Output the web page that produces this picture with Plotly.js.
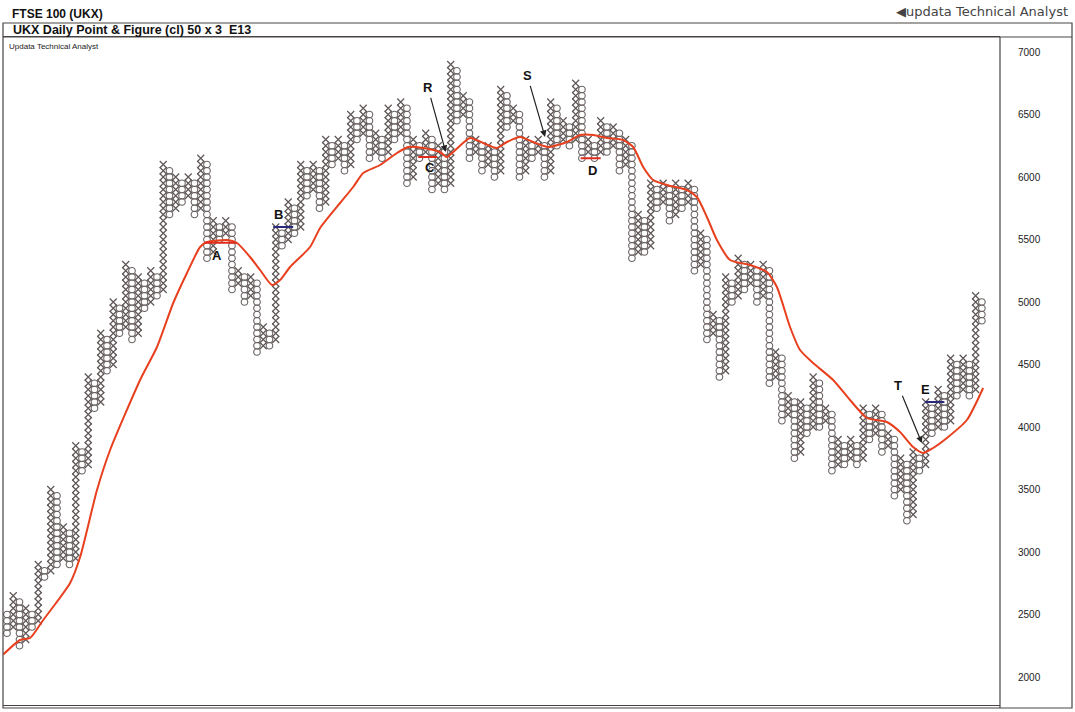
<!DOCTYPE html>
<html>
<head>
<meta charset="utf-8">
<script src="https://cdn.plot.ly/plotly-3.0.1.min.js"></script>
<style>
html,body{margin:0;padding:0;background:#fff;}
#chart{width:1075px;height:712px;}
</style>
</head>
<body>
<div id="chart"></div>
<script>
// ---- Data (Point & Figure, box 50, 3-box reversal) ----
const boxSize = 50;
const firstColTop = 2500;           // first column (O) starts here
// Column end values: even index = O column low, odd index = X column high
const colEnds = [2350,2650,2250,2550,2400,2900,2800,3500,2900,3200,
  2900,3850,3650,4400,4150,4750,4450,5000,4750,5300,
  4700,5200,4950,5250,5050,6100,5700,6000,5800,6000,
  5700,6150,5350,5650,5500,5650,5100,5250,5000,5200,
  4600,4800,4650,5600,5450,5800,5550,6100,5850,6100,
  5750,6300,6100,6300,6050,6500,6300,6550,6150,6350,
  6150,6550,6300,6600,5950,6300,6150,6350,5900,6250,
  5900,6900,6450,6650,6150,6300,6050,6250,6000,6700,
  6400,6550,6000,6300,6150,6300,6000,6600,6250,6450,
  6250,6750,6150,6300,6150,6450,6200,6400,6050,6300,
  5350,5700,5400,5950,5750,5950,5650,5950,5750,5950,
  5250,5550,4700,4900,4400,5200,5000,5350,5100,5300,
  5000,5300,4350,4600,4050,4250,3750,4200,3950,4400,
  4000,4150,3650,3900,3700,3900,3700,4150,3900,4150,
  3800,3950,3450,3750,3250,3800,3650,4200,3950,4300,
  4000,4550,4250,4550,4250,5050,4850];

// Moving average at column positions
const maCol = [-0.6,2.1,3.7,5.8,8.2,10.1,11.7,14.4,16.5,21.3,24,26.6,28.8,30.9,32,35.2,36.8,38.9,40.5,42.4,43.7,45.3,48.5,50.1,53.3,55.4,57,59.7,62.4,64.2,66.6,69.3,70.4,71.4,74.1,76.2,78.4,80,82.1,84.2,86.6,89.6,91.7,93.8,96,98.6,100.2,101.8,103.4,105.6,108.8,110.4,112,113.6,115.7,118.9,121.6,123.2,125.3,126.9,129,132.2,134.9,137.6,140.8,142.9,145,146.6,148.2,150.4,153.6,156.2];
const maVal = [2180,2296,2312,2456,2616,2752,2960,3496,3816,4376,4640,4992,5232,5440,5480,5496,5472,5360,5256,5136,5176,5280,5440,5592,5792,5920,6032,6096,6192,6240,6232,6200,6160,6200,6312,6272,6232,6280,6320,6280,6240,6280,6336,6336,6312,6296,6240,6080,5976,5936,5896,5840,5680,5496,5336,5296,5240,5120,4800,4616,4512,4376,4216,4072,4040,3960,3840,3792,3832,3912,4056,4312];

// Signal levels
const levelNames = ['A','B','C','D','E'];
const levelValues = [5475,5600,6160,6150,4200];
const levelFrom = [31.6,42.6,65.8,91.8,146.9];
const levelTo = [36.8,45.8,68.8,95.0,150.0];
const levelColors = ['#e02a1c','#2b2a7a','#e02a1c','#e02a1c','#2b2a7a'];

// Arrow labels
const arrowNames = ['R','S','T'];
const arrowCol = [70.2,86.1,146.4];
const arrowVal = [6200,6320,3872];

const yTicks = [2000,2500,3000,3500,4000,4500,5000,5500,6000,6500,7000];

// ---- Build boxes ----
const xX=[],yX=[],xO=[],yO=[];
for(let i=0;i<colEnds.length;i++){
  const isO = (i%2===0);
  if(isO){
    const start = i===0 ? firstColTop : colEnds[i-1]-boxSize;
    for(let v=start; v>=colEnds[i]; v-=boxSize){ xO.push(i); yO.push(v); }
  } else {
    const start = colEnds[i-1]+boxSize;
    for(let v=start; v<=colEnds[i]; v+=boxSize){ xX.push(i); yX.push(v); }
  }
}

const boxColor = '#5e5656';
const traces = [
  {type:'scatter',mode:'markers',x:xO,y:yO,hoverinfo:'skip',
   marker:{symbol:'circle-open',size:6.6,color:'#6a6262',line:{width:1.1,color:'#6a6262'}}},
  {type:'scatter',mode:'markers',x:xX,y:yX,hoverinfo:'skip',
   marker:{symbol:'x-thin-open',size:7,color:boxColor,line:{width:1.2,color:boxColor}}},
  {type:'scatter',mode:'lines',x:maCol,y:maVal,hoverinfo:'skip',
   line:{color:'#e8401e',width:2,shape:'spline',smoothing:0.6}}
];

const W=1075,H=712, L=3, R=1000, T=37, B=705;
const px = x => (x-L)/(R-L);
const py = y => (B-y)/(B-T);

const shapes = [];
for(let k=0;k<levelNames.length;k++){
  shapes.push({type:'line',xref:'x',yref:'y',x0:levelFrom[k],x1:levelTo[k],y0:levelValues[k],y1:levelValues[k],
    line:{color:levelColors[k],width:2}});
}
// frames
shapes.push({type:'rect',xref:'paper',yref:'paper',x0:0,x1:px(1072),y0:py(708),y1:py(23),line:{color:'#4a4444',width:1.2}});
shapes.push({type:'line',xref:'paper',yref:'paper',x0:0,x1:px(1072),y0:py(37),y1:py(37),line:{color:'#4a4444',width:1.2}});
shapes.push({type:'line',xref:'paper',yref:'paper',x0:1,x1:1,y0:py(708),y1:py(37),line:{color:'#4a4444',width:1.2}});

const labelFont = {family:'Liberation Sans, Arial, sans-serif',size:13,color:'#111'};
const annotations = [];
const levelLabelOffset = {A:[0,-13],B:[0,13],C:[4,-10],D:[4,-12],E:[-2,13]};
for(let k=0;k<levelNames.length;k++){
  const n=levelNames[k];
  const mid = n==='A'? (levelFrom[k]+levelTo[k])/2 - 0.6 : (n==='B'? levelFrom[k]+0.8 : (n==='E'? levelFrom[k]+0.4 : levelFrom[k]+1.2));
  annotations.push({xref:'x',yref:'y',x:mid,y:levelValues[k],text:'<b>'+n+'</b>',showarrow:false,
    font:labelFont,xshift:levelLabelOffset[n][0],yshift:levelLabelOffset[n][1]});
}
const arrowOff = {R:[-18,-65],S:[-18,-62],T:[-24,-58]};
for(let k=0;k<arrowNames.length;k++){
  const n=arrowNames[k];
  annotations.push({xref:'x',yref:'y',x:arrowCol[k],y:arrowVal[k],text:'<b>'+n+'</b>',showarrow:true,
    ax:arrowOff[n][0],ay:arrowOff[n][1],arrowhead:2,arrowsize:1.1,arrowwidth:1.2,arrowcolor:'#222',
    standoff:0,startstandoff:2,font:labelFont});
}
annotations.push({xref:'paper',yref:'paper',x:px(10),y:py(14),xanchor:'left',yanchor:'middle',showarrow:false,
  text:'<b>FTSE 100 (UKX)</b>',font:{family:'Liberation Sans, Arial, sans-serif',size:12,color:'#111'}});
annotations.push({xref:'paper',yref:'paper',x:px(11),y:py(30),xanchor:'left',yanchor:'middle',showarrow:false,
  text:'<b>UKX Daily Point &amp; Figure (cl) 50 x 3  E13</b>',font:{family:'Liberation Sans, Arial, sans-serif',size:12.5,color:'#111'}});
annotations.push({xref:'paper',yref:'paper',x:px(7),y:py(47),xanchor:'left',yanchor:'middle',showarrow:false,
  text:'Updata Technical Analyst',font:{family:'Liberation Sans, Arial, sans-serif',size:8,color:'#222'}});
annotations.push({xref:'paper',yref:'paper',x:px(1070),y:py(12),xanchor:'right',yanchor:'middle',showarrow:false,
  text:'\u25C0updata Technical Analyst',font:{family:'DejaVu Sans, sans-serif',size:13,color:'#444'}});

const layout = {
  width:W,height:H,
  margin:{l:L,r:W-R,t:T,b:H-B,pad:0},
  paper_bgcolor:'#fff',plot_bgcolor:'#fff',
  showlegend:false,
  xaxis:{range:[-0.64,158.9],showgrid:false,zeroline:false,showticklabels:false,ticks:'',
         showline:true,mirror:true,linecolor:'#4a4444',linewidth:1.2},
  yaxis:{range:[1776,7120],side:'right',showgrid:false,zeroline:false,
         tickvals:yTicks,ticktext:yTicks.map(String),ticks:'outside',ticklen:15,tickcolor:'rgba(0,0,0,0)',
         tickfont:{family:'Liberation Sans, Arial, sans-serif',size:10,color:'#222'},
         showline:false},
  shapes:shapes,
  annotations:annotations
};
Plotly.newPlot('chart',traces,layout,{staticPlot:true,displayModeBar:false});
</script>
</body>
</html>
